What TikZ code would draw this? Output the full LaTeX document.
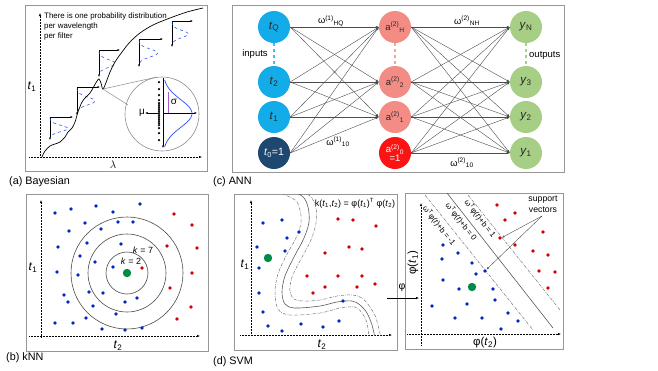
\documentclass[tikz,border=0pt]{standalone}
\usepackage{fontspec}
\setmainfont{Liberation Sans}
\usetikzlibrary{arrows.meta,calc}
\definecolor{dotblue}{RGB}{0,40,200}
\definecolor{dotred}{RGB}{210,0,0}
\definecolor{dotgreen}{RGB}{0,140,70}
\definecolor{inblue}{RGB}{20,172,232}
\definecolor{navyblue}{RGB}{30,72,112}
\definecolor{salmon}{RGB}{243,140,132}
\definecolor{brightred}{RGB}{250,20,20}
\definecolor{lgreen}{RGB}{166,206,132}
\definecolor{boxgray}{RGB}{150,150,150}
\definecolor{gaussblue}{RGB}{40,80,240}
\definecolor{sigmapurple}{RGB}{170,90,200}
\begin{document}
\begin{tikzpicture}[x=1pt,y=-1pt,
  panel/.style={draw=boxgray, line width=0.7pt},
  axarr/.style={densely dotted, line width=0.5pt, -{Latex[length=3pt,width=2.4pt]}},
  thinarr/.style={line width=0.4pt, -{Latex[length=2.5pt,width=2pt]}},
  conn/.style={draw=black!70, line width=0.4pt, -{Latex[length=3pt,width=2.4pt]}},
  neuron/.style={circle, minimum size=32pt, inner sep=0pt, text=black!85, font=\fontsize{11.5}{11}\selectfont},
  aneuron/.style={neuron, font=\fontsize{9.5}{9}\selectfont},
  plab/.style={font=\fontsize{10.8}{11}\selectfont, anchor=west, inner sep=0pt},
  smalltxt/.style={font=\fontsize{7.6}{8}\selectfont, inner sep=0pt},
  wlab/.style={font=\fontsize{9.3}{9}\selectfont, inner sep=0pt},
  axlab/.style={font=\fontsize{12}{12}\selectfont, inner sep=0pt},
  ddline/.style={draw=black!55, line width=0.5pt, dash pattern=on 3pt off 1.2pt on 0.6pt off 1.2pt},
  solidsep/.style={draw=black!65, line width=0.6pt},
]
\useasboundingbox (0,0) rectangle (658,370);

% ================= (a) Bayesian =================
\draw[panel] (25,5) rectangle (207,171);
\draw[axarr] (40,157) -- (40,13);
\draw[axarr] (29,157) -- (202,157);
\node[axlab] (at1) at (32,87) {\textit{t}\textsubscript{1}};
\node[axlab, font=\fontsize{11}{11}\selectfont] (alam) at (113,165) {$\lambda$};
\node[anchor=west, align=left, inner sep=0pt, font=\fontsize{7.9}{10}\selectfont] (atext) at (44,26) {There is one probability distribution\\per wavelength\\per filter};

\foreach \gx/\gt/\gr/\gb in {50/117/73/140, 77/87/100/115, 99/50/120/77, 139/39/163/67, 172/21/193/47}{
  \draw[thinarr] (\gx,\gt) -- (\gx,\gb);
  \draw[thinarr] (\gx,\gt) -- (\gr,\gt);
  \draw[gaussblue, dashed, line width=0.55pt] plot[domain=0:1, samples=40, variable=\t]
     ({\gx + 0.78*(\gr-\gx)*exp(-((\t-0.5)^2)/0.045)}, {\gt + 1 + \t*(\gb-\gt-2)});
}
\draw[line width=0.7pt] plot[smooth, tension=0.55] coordinates {(42,157) (45,151) (50,146) (55,144) (60,142) (65,137) (68,132) (72,128) (75,122) (78,112) (82,102) (86,97) (90,93) (93,88) (97,81) (99,79) (101,83) (103,89) (107,80) (110,72) (115,62) (122,52) (130,42) (140,33) (153,25) (170,18) (187,12) (203,8)};

\coordinate (dip) at (103,89);
\coordinate (mc) at (162,114);
\coordinate (tanA) at (157,77);
\coordinate (tanB) at (128,105);
\draw[black!45, line width=0.6pt] (mc) circle (37);
\draw[black!45, line width=0.5pt] (dip) -- (tanA);
\draw[black!45, line width=0.5pt] (dip) -- (tanB);
\foreach \yy in {82,89,95,100,103,105,107,109,111,113,115,117,119,121,123,125,128,133,140}
  \fill (159,\yy) circle (1.25);
\node[font=\fontsize{10}{10}\selectfont, inner sep=0pt] (mu) at (142,113) {μ};
\draw[thinarr] (158,113) -- (mu.east);
\coordinate (gtop) at (163,78);
\coordinate (gbot) at (163,148);
\coordinate (gright) at (197,113);
\draw[thinarr] (gtop) -- (gbot);
\draw[thinarr] (163,113) -- (gright);
\draw[gaussblue, line width=0.7pt] plot[domain=80:147, samples=60, variable=\t] ({163+29*exp(-((\t-113.5)^2)/392)}, {\t});
\draw[sigmapurple, line width=0.6pt] (168,92) -- (168,113);
\node[font=\fontsize{10}{10}\selectfont, inner sep=0pt] (sig) at (174,102) {σ};
\node[plab] (la) at (9,182) {(a) Bayesian};

% ================= (b) kNN =================
\draw[panel] (26,194) rectangle (208,351);
\draw[axarr] (41,337) -- (41,200);
\draw[axarr] (29,336) -- (200,336);
\node[axlab] (bt1) at (33,268) {\textit{t}\textsubscript{1}};
\node[axlab] (bt2) at (118,346) {\textit{t}\textsubscript{2}};
\coordinate (kg) at (127,273);
\draw[black!70, line width=0.6pt] (kg) circle (21) (kg) circle (39) (kg) circle (56);
\foreach \p in {(55,213),(71,209),(96,206),(113,212),(140,204),(69,231),(85,223),(101,229),(118,222),(133,222),(58,247),(87,243),(121,244),(80,256),(95,262),(57,272),(78,275),(113,267),(64,295),(68,302),(89,292),(103,293),(125,302),(137,298),(93,306),(116,314),(55,323),(73,323),(86,318),(102,329),(125,330),(142,328)}
  \fill[dotblue] \p circle (1.8);
\foreach \p in {(174,214),(192,225),(167,246),(197,248),(142,268),(192,273),(170,288),(191,307),(177,319)}
  \fill[dotred] \p circle (1.8);
\fill[dotgreen] (kg) circle (4.2);
\node[inner sep=0pt, font=\fontsize{9}{9}\selectfont] (k7) at (143,250) {\textit{k} = 7};
\node[inner sep=0pt, font=\fontsize{9}{9}\selectfont] (k2) at (131,261) {\textit{k} = 2};
\node[plab] (lb) at (6,358) {(b) kNN};

% ================= (c) ANN =================
\draw[panel] (232,5) rectangle (564,172);
\node[neuron, fill=inblue] (tQ) at (274,27) {\textit{t}\textsubscript{Q}};
\node[neuron, fill=inblue] (t2) at (274,82) {\textit{t}\textsubscript{2}};
\node[neuron, fill=inblue] (t1) at (274,117) {\textit{t}\textsubscript{1}};
\node[neuron, fill=navyblue, text=white, font=\fontsize{10.5}{10}\selectfont] (t0) at (274,153) {\textit{t}\textsubscript{0}=1};
\node[aneuron, fill=salmon] (aH) at (395,27) {a\textsuperscript{(2)}\textsubscript{H}};
\node[aneuron, fill=salmon] (a2) at (395,82) {a\textsuperscript{(2)}\textsubscript{2}};
\node[aneuron, fill=salmon] (a1) at (395,117) {a\textsuperscript{(2)}\textsubscript{1}};
\node[aneuron, fill=brightred, text=white, align=center] (a0) at (395,153) {a\textsuperscript{(2)}\textsubscript{0}\\=1};
\node[neuron, fill=lgreen] (yN) at (526,27) {\textit{y}\textsubscript{N}};
\node[neuron, fill=lgreen] (y3) at (526,82) {\textit{y}\textsubscript{3}};
\node[neuron, fill=lgreen] (y2) at (526,117) {\textit{y}\textsubscript{2}};
\node[neuron, fill=lgreen] (y1) at (526,153) {\textit{y}\textsubscript{1}};
\foreach \s in {tQ,t2,t1,t0}
  \foreach \d in {aH,a2,a1}
    \draw[conn] (\s.east) -- (\d.west);
\foreach \s in {aH,a2,a1,a0}
  \foreach \d in {yN,y3,y2,y1}
    \draw[conn] (\s.east) -- (\d.west);
\draw[inblue!80, dashed, line width=1.2pt] (tQ.south) -- (t2.north);
\draw[salmon!80, dashed, line width=1.2pt] (aH.south) -- (a2.north);
\draw[lgreen, dashed, line width=1.2pt] (yN.south) -- (y3.north);
\node[inner sep=0pt, font=\fontsize{9.5}{9}\selectfont] (inp) at (255,54) {inputs};
\node[inner sep=0pt, font=\fontsize{9.5}{9}\selectfont, anchor=west] (outp) at (529,55) {outputs};
\node[wlab] (w1HQ) at (331,21) {ω\textsuperscript{(1)}\textsubscript{HQ}};
\node[wlab] (w110) at (338,142) {ω\textsuperscript{(1)}\textsubscript{10}};
\node[wlab] (w2NH) at (467,21) {ω\textsuperscript{(2)}\textsubscript{NH}};
\node[wlab] (w210) at (462,163) {ω\textsuperscript{(2)}\textsubscript{10}};
\node[plab] (lc) at (213,182) {(c) ANN};

% ================= (d) SVM left =================
\draw[panel] (234,194) rectangle (397,350);
\draw[axarr] (251,335) -- (251,200);
\draw[axarr] (240,335) -- (392,335);
\node[axlab] (dt1) at (245,265) {\textit{t}\textsubscript{1}};
\node[axlab] (dt2) at (322,345) {\textit{t}\textsubscript{2}};
\node[inner sep=0pt, font=\fontsize{9}{9}\selectfont] (kern) at (355,203) {k(\textit{t}\textsubscript{1},\textit{t}\textsubscript{2}) = φ(\textit{t}\textsubscript{1})\textsuperscript{T} φ(\textit{t}\textsubscript{2})};
\begin{scope}
\clip (234,194) rectangle (397,335);
\draw[solidsep] plot[smooth, tension=0.55] coordinates {(284,188) (302,196) (308,207) (309,222) (304,238) (294,257) (285,276) (282,292) (285,304) (295,308) (320,306) (337,302) (352,301) (360,305) (367,313) (372,325) (375,338)};
\draw[ddline] plot[smooth, tension=0.55] coordinates {(292,186) (310,196) (316,208) (316,223) (311,240) (301,259) (292,277) (290,291) (294,299) (304,301) (320,300) (337,296) (352,295) (362,298) (370,307) (376,318) (381,338)};
\draw[ddline] plot[smooth, tension=0.55] coordinates {(276,191) (295,200) (300,210) (301,223) (296,238) (286,256) (278,274) (275,292) (278,309) (290,315) (320,313) (340,308) (355,307) (362,313) (367,323) (369,338)};
\end{scope}
\foreach \p in {(263,223),(282,220),(257,247),(287,238),(299,232),(285,251),(259,268),(259,293),(263,312),(268,326),(282,331),(301,324),(323,327),(339,321),(343,301)}
  \fill[dotblue] \p circle (1.8);
\foreach \p in {(338,219),(353,220),(376,226),(349,247),(325,253),(362,249),(307,276),(338,276),(362,276),(325,287),(357,287),(375,284),(313,293)}
  \fill[dotred] \p circle (1.8);
\fill[dotgreen] (268,258) circle (4.2);
\node[plab] (ld) at (213,362) {(d) SVM};

% ================= (d) SVM right =================
\draw[panel] (405,193) rectangle (563,349);
\coordinate (phiS) at (387,298);
\coordinate (phiE) at (419,298);
\draw[line width=0.5pt, -{Latex[length=3pt,width=2.4pt]}] (phiS) -- (phiE);
\node[font=\fontsize{10.5}{10}\selectfont, inner sep=0pt] (phi) at (402,288) {φ};
\draw[axarr] (421,345) -- (421,203);
\draw[axarr] (407,334) -- (561,334);
\node[font=\fontsize{11.5}{10}\selectfont, inner sep=0pt, rotate=90] (pt1) at (413,263) {φ(\textit{t}\textsubscript{1})};
\node[font=\fontsize{11.5}{10}\selectfont, inner sep=0pt] (pt2) at (485,343) {φ(\textit{t}\textsubscript{2})};
\draw[solidsep] (447,193) -- (553,328);
\draw[ddline] (425,195) -- (533,330);
\draw[ddline] (468,195) -- (560,310);
\node[smalltxt, font=\fontsize{7.9}{8}\selectfont, rotate=-52] (lm1) at (439,226) {ω\textsuperscript{T}φ(\textit{t})+b = -1};
\node[smalltxt, font=\fontsize{7.9}{8}\selectfont, rotate=-52] (l0) at (461,222) {ω\textsuperscript{T}φ(\textit{t})+b = 0};
\node[smalltxt, font=\fontsize{7.9}{8}\selectfont, rotate=-52] (lp1) at (480,219) {ω\textsuperscript{T}φ(\textit{t})+b = 1};
\foreach \p in {(443,245),(458,253),(442,259),(472,263),(476,274),(443,280),(459,289),(493,289),(495,300),(467,304),(432,306),(455,318),(482,318),(508,313),(518,321),(501,329)}
  \fill[dotblue] \p circle (1.8);
\foreach \p in {(497,205),(515,213),(505,220),(515,245),(543,232),(533,251),(548,255),(539,271),(555,272),(548,288)}
  \fill[dotred] \p circle (1.8);
\coordinate (svr) at (500,238);
\coordinate (svb) at (485,271);
\fill[dotred] (svr) circle (1.8);
\fill[dotblue] (svb) circle (1.8);
\fill[dotgreen] (472,287) circle (4.2);
\node[inner sep=0pt, align=center, font=\fontsize{8.7}{10.5}\selectfont] (sv) at (543,204) {support\\vectors};
\coordinate (svsrc) at (542,216);
\draw[thinarr, black!70] (svsrc) -- ($(svr)+(2,-0.5)$);
\draw[thinarr, black!70] (svsrc) -- ($(svb)+(1.5,-1.5)$);
\end{tikzpicture}
\end{document}
